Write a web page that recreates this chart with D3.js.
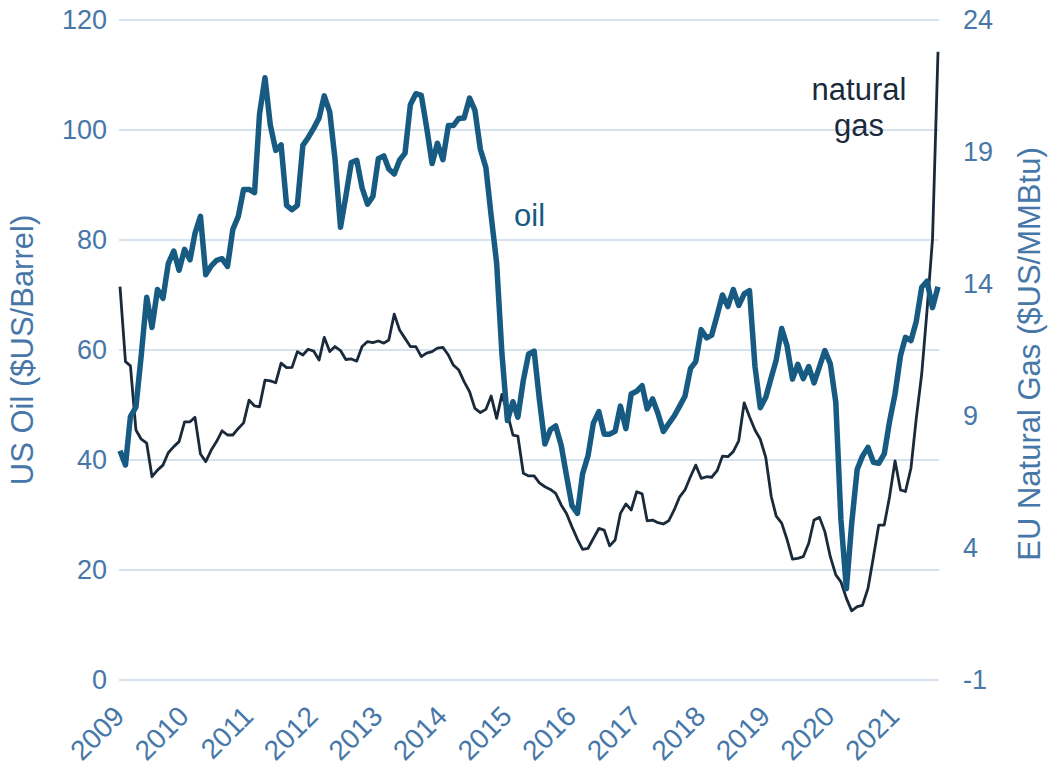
<!DOCTYPE html>
<html>
<head>
<meta charset="utf-8">
<script src="https://cdn.jsdelivr.net/npm/d3@7"></script>
<style>
  body { margin: 0; background: #fff; }
  svg text { font-family: "Liberation Sans", Arial, sans-serif; }
</style>
</head>
<body>
<svg id="chart" width="1051" height="765"></svg>
<script>
// Monthly series, Jan 2009 .. Sep 2021 (153 months).
var startMonth = new Date(2009, 0, 1);
var endMonth = new Date(2021, 8, 1);

// US oil, $US/barrel
var oilPrice = [
    41.7, 39.1, 47.9, 49.6, 59.0, 69.6, 64.1, 71.0, 69.4, 75.7, 78.0, 74.5,
    78.3, 76.4, 81.2, 84.3, 73.7, 75.3, 76.3, 76.6, 75.2, 81.9, 84.3, 89.2,
    89.2, 88.6, 102.9, 109.5, 100.9, 96.3, 97.3, 86.3, 85.5, 86.3, 97.2, 98.6,
    100.3, 102.2, 106.2, 103.3, 94.7, 82.3, 87.9, 94.1, 94.5, 89.5, 86.5, 87.9,
    94.8, 95.3, 92.9, 92.0, 94.5, 95.8, 104.6, 106.6, 106.3, 100.5, 93.9, 97.6,
    94.6, 100.8, 100.8, 102.1, 102.2, 105.8, 103.6, 96.5, 93.2, 84.4, 75.8, 59.3,
    47.2, 50.6, 47.8, 54.5, 59.3, 59.8, 50.9, 42.9, 45.5, 46.2, 42.7, 37.2,
    31.7, 30.3, 37.5, 40.8, 46.7, 48.8, 44.7, 44.7, 45.2, 49.8, 45.7, 52.0,
    52.5, 53.5, 49.3, 51.1, 48.5, 45.2, 46.6, 48.0, 49.8, 51.6, 56.6, 57.9,
    63.7, 62.2, 62.7, 66.3, 70.0, 67.9, 71.0, 68.1, 70.2, 70.8, 57.0, 49.5,
    51.4, 55.0, 58.2, 63.9, 60.8, 54.7, 57.4, 54.8, 57.0, 54.0, 57.0, 59.9,
    57.5, 50.5, 29.2, 16.6, 28.5, 38.3, 40.7, 42.3, 39.6, 39.4, 41.1, 47.0,
    52.0, 59.0, 62.3, 61.7, 65.2, 71.4, 72.5, 67.7, 71.5
];

// EU natural gas, $US/MMBtu
var gasPrice = [
    13.9, 11.06, 10.9, 8.47, 8.12, 7.97, 6.7, 6.95, 7.14, 7.61, 7.84, 8.03,
    8.78, 8.78, 8.95, 7.56, 7.27, 7.71, 8.03, 8.44, 8.28, 8.28, 8.53, 8.74,
    9.6, 9.38, 9.35, 10.36, 10.33, 10.26, 11.0, 10.83, 10.84, 11.44, 11.31, 11.53,
    11.46, 11.12, 11.98, 11.44, 11.63, 11.48, 11.14, 11.16, 11.08, 11.63, 11.82, 11.78,
    11.84, 11.76, 11.88, 12.86, 12.26, 11.94, 11.63, 11.63, 11.25, 11.38, 11.44, 11.57,
    11.6, 11.31, 10.93, 10.74, 10.3, 9.92, 9.29, 9.13, 9.25, 9.76, 8.91, 9.82,
    9.1, 8.28, 8.24, 6.83, 6.73, 6.73, 6.47, 6.32, 6.22, 6.07, 5.63, 5.31,
    4.8, 4.33, 3.95, 3.99, 4.36, 4.74, 4.68, 4.08, 4.3, 5.31, 5.67, 5.44,
    6.13, 6.05, 5.03, 5.06, 4.96, 4.91, 5.03, 5.44, 5.94, 6.2, 6.7, 7.14,
    6.64, 6.7, 6.68, 6.93, 7.48, 7.46, 7.65, 8.06, 9.5, 8.97, 8.47, 8.12,
    7.43, 5.95, 5.21, 4.94, 4.33, 3.58, 3.61, 3.67, 4.18, 5.06, 5.16, 4.62,
    3.67, 2.98, 2.72, 2.09, 1.62, 1.78, 1.83, 2.47, 3.67, 4.87, 4.87, 5.94,
    7.3, 6.2, 6.14, 7.02, 8.9, 10.6, 13.0, 15.7, 22.8
];

var oilTicks = [0, 20, 40, 60, 80, 100, 120];
var gasTicks = [-1, 4, 9, 14, 19, 24];
var yearLabels = ['2009', '2010', '2011', '2012', '2013', '2014', '2015',
                  '2016', '2017', '2018', '2019', '2020', '2021'];

var oilColor = '#175b82';
var gasColor = '#1a2a3b';
var labelColor = '#4677a8';
var gridColor = '#d6e2ee';

var months = d3.timeMonth.range(startMonth, d3.timeMonth.offset(endMonth, 1));

/**
 * Draw the dual-axis oil / gas chart.
 */
function drawChart(svg) {
    var plot = {left: 120, right: 938, top: 20, bottom: 680};

    var x = d3.scaleTime()
        .domain([startMonth, endMonth])
        .range([plot.left, plot.right]);
    var yOil = d3.scaleLinear()
        .domain([0, 120])
        .range([plot.bottom, plot.top]);
    var yGas = d3.scaleLinear()
        .domain([-1, 24])
        .range([plot.bottom, plot.top]);

    // Horizontal gridlines follow the left (oil) axis.
    svg.append('g')
        .selectAll('line')
        .data(oilTicks)
        .join('line')
        .attr('x1', plot.left - 1)
        .attr('x2', plot.right + 1)
        .attr('y1', d => yOil(d))
        .attr('y2', d => yOil(d))
        .attr('stroke', gridColor)
        .attr('stroke-width', 2);

    // Left axis
    var leftAxis = svg.append('g')
        .attr('transform', 'translate(' + plot.left + ',0)')
        .call(d3.axisLeft(yOil).tickValues(oilTicks).tickSize(0).tickPadding(13));
    leftAxis.select('.domain').remove();
    leftAxis.selectAll('text')
        .attr('font-size', 27)
        .attr('fill', labelColor);

    // Right axis; plain hyphen for "-1" like the original, not d3's minus sign.
    var rightAxis = svg.append('g')
        .attr('transform', 'translate(' + plot.right + ',0)')
        .call(d3.axisRight(yGas).tickValues(gasTicks).tickSize(0).tickPadding(25)
              .tickFormat(d => String(d)));
    rightAxis.select('.domain').remove();
    rightAxis.selectAll('text')
        .attr('font-size', 27)
        .attr('fill', labelColor);

    // Year labels, rotated, ending at the January of each year.
    var yearDates = yearLabels.map(y => new Date(+y, 0, 1));
    svg.append('g')
        .selectAll('text')
        .data(yearDates)
        .join('text')
        .attr('transform', d => 'translate(' + (x(d) + 6) + ',718) rotate(-45)')
        .attr('text-anchor', 'end')
        .attr('font-size', 28)
        .attr('fill', labelColor)
        .text((d, i) => yearLabels[i]);

    // Axis titles
    svg.append('text')
        .attr('transform', 'translate(33,' + (plot.top + plot.bottom) / 2 + ') rotate(-90)')
        .attr('text-anchor', 'middle')
        .attr('font-size', 31)
        .attr('fill', labelColor)
        .text('US Oil ($US/Barrel)');

    svg.append('text')
        .attr('transform', 'translate(1040,' + ((plot.top + plot.bottom) / 2 + 4) + ') rotate(-90)')
        .attr('text-anchor', 'middle')
        .attr('font-size', 31)
        .attr('fill', labelColor)
        .text('EU Natural Gas ($US/MMBtu)');

    // Lines
    var oilLine = d3.line()
        .x((d, i) => x(months[i]))
        .y(d => yOil(d));
    var gasLine = d3.line()
        .x((d, i) => x(months[i]))
        .y(d => yGas(d));

    svg.append('path')
        .datum(gasPrice)
        .attr('d', gasLine)
        .attr('fill', 'none')
        .attr('stroke', gasColor)
        .attr('stroke-width', 2.8)
        .attr('stroke-linejoin', 'round');

    svg.append('path')
        .datum(oilPrice)
        .attr('d', oilLine)
        .attr('fill', 'none')
        .attr('stroke', oilColor)
        .attr('stroke-width', 5.5)
        .attr('stroke-linejoin', 'round');

    // Series labels
    svg.append('text')
        .attr('x', 514)
        .attr('y', 226)
        .attr('font-size', 31)
        .attr('fill', oilColor)
        .text('oil');

    var gasLabel = svg.append('text')
        .attr('text-anchor', 'middle')
        .attr('font-size', 31)
        .attr('fill', gasColor);
    gasLabel.append('tspan').attr('x', 859).attr('y', 100).text('natural');
    gasLabel.append('tspan').attr('x', 859).attr('y', 136).text('gas');
}

drawChart(d3.select('#chart'));
</script>
</body>
</html>
